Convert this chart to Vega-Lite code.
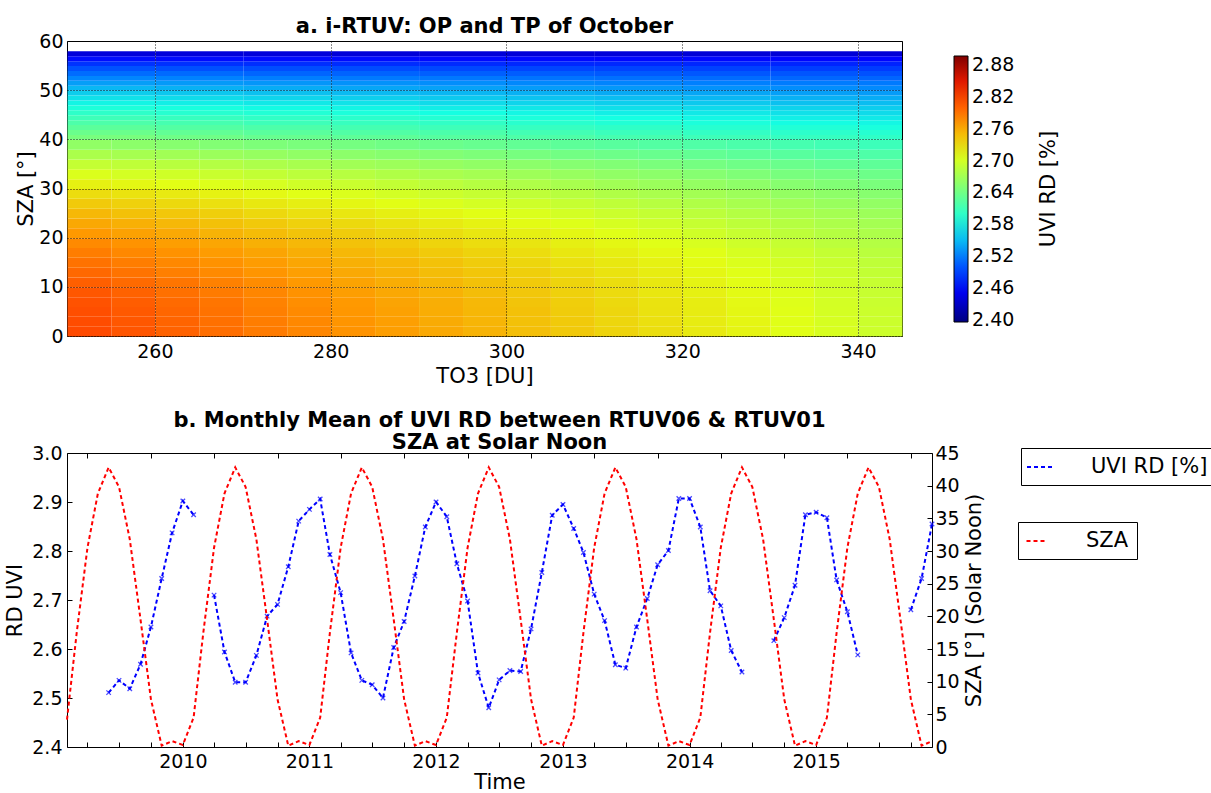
{
"$schema": "https://vega.github.io/schema/vega-lite/v6.json",
"padding": {"left": 4, "top": 15, "right": 0, "bottom": 0},
"background": "white",
"config": {
 "font": "DejaVu Sans",
 "view": {"stroke": "black", "strokeWidth": 1},
 "axis": {"labelFontSize": 19, "titleFontSize": 21, "titleFontWeight": "normal", "labelColor": "black", "titleColor": "black", "domain": false, "tickColor": "black", "grid": false, "labelFont": "DejaVu Sans", "titleFont": "DejaVu Sans"},
 "title": {"fontSize": 21, "fontWeight": "bold", "font": "DejaVu Sans", "color": "black"},
 "legend": {"labelFont": "DejaVu Sans", "titleFont": "DejaVu Sans", "labelColor": "black"}
},
"datasets": {
"grid": [
{"t":250,"s":0,"v":2.813},{"t":255,"s":0,"v":2.807},{"t":260,"s":0,"v":2.800},{"t":265,"s":0,"v":2.794},{"t":270,"s":0,"v":2.787},{"t":275,"s":0,"v":2.781},{"t":280,"s":0,"v":2.774},{"t":285,"s":0,"v":2.768},{"t":290,"s":0,"v":2.761},{"t":295,"s":0,"v":2.755},{"t":300,"s":0,"v":2.748},{"t":305,"s":0,"v":2.742},{"t":310,"s":0,"v":2.735},{"t":315,"s":0,"v":2.729},{"t":320,"s":0,"v":2.722},{"t":325,"s":0,"v":2.716},{"t":330,"s":0,"v":2.709},{"t":335,"s":0,"v":2.703},{"t":340,"s":0,"v":2.696},
{"t":250,"s":2,"v":2.812},{"t":255,"s":2,"v":2.806},{"t":260,"s":2,"v":2.799},{"t":265,"s":2,"v":2.793},{"t":270,"s":2,"v":2.786},{"t":275,"s":2,"v":2.780},{"t":280,"s":2,"v":2.773},{"t":285,"s":2,"v":2.767},{"t":290,"s":2,"v":2.760},{"t":295,"s":2,"v":2.754},{"t":300,"s":2,"v":2.747},{"t":305,"s":2,"v":2.741},{"t":310,"s":2,"v":2.734},{"t":315,"s":2,"v":2.728},{"t":320,"s":2,"v":2.721},{"t":325,"s":2,"v":2.715},{"t":330,"s":2,"v":2.708},{"t":335,"s":2,"v":2.702},{"t":340,"s":2,"v":2.695},
{"t":250,"s":4,"v":2.811},{"t":255,"s":4,"v":2.805},{"t":260,"s":4,"v":2.798},{"t":265,"s":4,"v":2.792},{"t":270,"s":4,"v":2.785},{"t":275,"s":4,"v":2.779},{"t":280,"s":4,"v":2.772},{"t":285,"s":4,"v":2.766},{"t":290,"s":4,"v":2.759},{"t":295,"s":4,"v":2.753},{"t":300,"s":4,"v":2.747},{"t":305,"s":4,"v":2.740},{"t":310,"s":4,"v":2.734},{"t":315,"s":4,"v":2.727},{"t":320,"s":4,"v":2.721},{"t":325,"s":4,"v":2.714},{"t":330,"s":4,"v":2.708},{"t":335,"s":4,"v":2.701},{"t":340,"s":4,"v":2.695},
{"t":250,"s":6,"v":2.809},{"t":255,"s":6,"v":2.803},{"t":260,"s":6,"v":2.796},{"t":265,"s":6,"v":2.790},{"t":270,"s":6,"v":2.783},{"t":275,"s":6,"v":2.777},{"t":280,"s":6,"v":2.771},{"t":285,"s":6,"v":2.764},{"t":290,"s":6,"v":2.758},{"t":295,"s":6,"v":2.752},{"t":300,"s":6,"v":2.745},{"t":305,"s":6,"v":2.739},{"t":310,"s":6,"v":2.732},{"t":315,"s":6,"v":2.726},{"t":320,"s":6,"v":2.720},{"t":325,"s":6,"v":2.713},{"t":330,"s":6,"v":2.707},{"t":335,"s":6,"v":2.700},{"t":340,"s":6,"v":2.694},
{"t":250,"s":8,"v":2.806},{"t":255,"s":8,"v":2.800},{"t":260,"s":8,"v":2.793},{"t":265,"s":8,"v":2.787},{"t":270,"s":8,"v":2.781},{"t":275,"s":8,"v":2.775},{"t":280,"s":8,"v":2.768},{"t":285,"s":8,"v":2.762},{"t":290,"s":8,"v":2.756},{"t":295,"s":8,"v":2.749},{"t":300,"s":8,"v":2.743},{"t":305,"s":8,"v":2.737},{"t":310,"s":8,"v":2.731},{"t":315,"s":8,"v":2.724},{"t":320,"s":8,"v":2.718},{"t":325,"s":8,"v":2.712},{"t":330,"s":8,"v":2.706},{"t":335,"s":8,"v":2.699},{"t":340,"s":8,"v":2.693},
{"t":250,"s":10,"v":2.802},{"t":255,"s":10,"v":2.796},{"t":260,"s":10,"v":2.790},{"t":265,"s":10,"v":2.784},{"t":270,"s":10,"v":2.778},{"t":275,"s":10,"v":2.771},{"t":280,"s":10,"v":2.765},{"t":285,"s":10,"v":2.759},{"t":290,"s":10,"v":2.753},{"t":295,"s":10,"v":2.747},{"t":300,"s":10,"v":2.741},{"t":305,"s":10,"v":2.735},{"t":310,"s":10,"v":2.729},{"t":315,"s":10,"v":2.723},{"t":320,"s":10,"v":2.716},{"t":325,"s":10,"v":2.710},{"t":330,"s":10,"v":2.704},{"t":335,"s":10,"v":2.698},{"t":340,"s":10,"v":2.692},
{"t":250,"s":12,"v":2.797},{"t":255,"s":12,"v":2.791},{"t":260,"s":12,"v":2.785},{"t":265,"s":12,"v":2.779},{"t":270,"s":12,"v":2.773},{"t":275,"s":12,"v":2.767},{"t":280,"s":12,"v":2.761},{"t":285,"s":12,"v":2.755},{"t":290,"s":12,"v":2.749},{"t":295,"s":12,"v":2.744},{"t":300,"s":12,"v":2.738},{"t":305,"s":12,"v":2.732},{"t":310,"s":12,"v":2.726},{"t":315,"s":12,"v":2.720},{"t":320,"s":12,"v":2.714},{"t":325,"s":12,"v":2.708},{"t":330,"s":12,"v":2.702},{"t":335,"s":12,"v":2.696},{"t":340,"s":12,"v":2.690},
{"t":250,"s":14,"v":2.792},{"t":255,"s":14,"v":2.786},{"t":260,"s":14,"v":2.780},{"t":265,"s":14,"v":2.775},{"t":270,"s":14,"v":2.769},{"t":275,"s":14,"v":2.763},{"t":280,"s":14,"v":2.757},{"t":285,"s":14,"v":2.752},{"t":290,"s":14,"v":2.746},{"t":295,"s":14,"v":2.740},{"t":300,"s":14,"v":2.734},{"t":305,"s":14,"v":2.728},{"t":310,"s":14,"v":2.723},{"t":315,"s":14,"v":2.717},{"t":320,"s":14,"v":2.711},{"t":325,"s":14,"v":2.705},{"t":330,"s":14,"v":2.700},{"t":335,"s":14,"v":2.694},{"t":340,"s":14,"v":2.688},
{"t":250,"s":16,"v":2.786},{"t":255,"s":16,"v":2.780},{"t":260,"s":16,"v":2.775},{"t":265,"s":16,"v":2.769},{"t":270,"s":16,"v":2.764},{"t":275,"s":16,"v":2.758},{"t":280,"s":16,"v":2.752},{"t":285,"s":16,"v":2.747},{"t":290,"s":16,"v":2.741},{"t":295,"s":16,"v":2.736},{"t":300,"s":16,"v":2.730},{"t":305,"s":16,"v":2.724},{"t":310,"s":16,"v":2.719},{"t":315,"s":16,"v":2.713},{"t":320,"s":16,"v":2.708},{"t":325,"s":16,"v":2.702},{"t":330,"s":16,"v":2.696},{"t":335,"s":16,"v":2.691},{"t":340,"s":16,"v":2.685},
{"t":250,"s":18,"v":2.779},{"t":255,"s":18,"v":2.774},{"t":260,"s":18,"v":2.768},{"t":265,"s":18,"v":2.763},{"t":270,"s":18,"v":2.757},{"t":275,"s":18,"v":2.752},{"t":280,"s":18,"v":2.746},{"t":285,"s":18,"v":2.741},{"t":290,"s":18,"v":2.735},{"t":295,"s":18,"v":2.730},{"t":300,"s":18,"v":2.725},{"t":305,"s":18,"v":2.719},{"t":310,"s":18,"v":2.714},{"t":315,"s":18,"v":2.708},{"t":320,"s":18,"v":2.703},{"t":325,"s":18,"v":2.697},{"t":330,"s":18,"v":2.692},{"t":335,"s":18,"v":2.686},{"t":340,"s":18,"v":2.681},
{"t":250,"s":20,"v":2.771},{"t":255,"s":20,"v":2.766},{"t":260,"s":20,"v":2.761},{"t":265,"s":20,"v":2.755},{"t":270,"s":20,"v":2.750},{"t":275,"s":20,"v":2.745},{"t":280,"s":20,"v":2.740},{"t":285,"s":20,"v":2.734},{"t":290,"s":20,"v":2.729},{"t":295,"s":20,"v":2.724},{"t":300,"s":20,"v":2.719},{"t":305,"s":20,"v":2.714},{"t":310,"s":20,"v":2.708},{"t":315,"s":20,"v":2.703},{"t":320,"s":20,"v":2.698},{"t":325,"s":20,"v":2.693},{"t":330,"s":20,"v":2.687},{"t":335,"s":20,"v":2.682},{"t":340,"s":20,"v":2.677},
{"t":250,"s":22,"v":2.762},{"t":255,"s":22,"v":2.757},{"t":260,"s":22,"v":2.752},{"t":265,"s":22,"v":2.747},{"t":270,"s":22,"v":2.742},{"t":275,"s":22,"v":2.737},{"t":280,"s":22,"v":2.732},{"t":285,"s":22,"v":2.727},{"t":290,"s":22,"v":2.722},{"t":295,"s":22,"v":2.717},{"t":300,"s":22,"v":2.712},{"t":305,"s":22,"v":2.707},{"t":310,"s":22,"v":2.702},{"t":315,"s":22,"v":2.697},{"t":320,"s":22,"v":2.692},{"t":325,"s":22,"v":2.687},{"t":330,"s":22,"v":2.682},{"t":335,"s":22,"v":2.677},{"t":340,"s":22,"v":2.672},
{"t":250,"s":24,"v":2.752},{"t":255,"s":24,"v":2.747},{"t":260,"s":24,"v":2.743},{"t":265,"s":24,"v":2.738},{"t":270,"s":24,"v":2.733},{"t":275,"s":24,"v":2.728},{"t":280,"s":24,"v":2.724},{"t":285,"s":24,"v":2.719},{"t":290,"s":24,"v":2.714},{"t":295,"s":24,"v":2.710},{"t":300,"s":24,"v":2.705},{"t":305,"s":24,"v":2.700},{"t":310,"s":24,"v":2.695},{"t":315,"s":24,"v":2.691},{"t":320,"s":24,"v":2.686},{"t":325,"s":24,"v":2.681},{"t":330,"s":24,"v":2.676},{"t":335,"s":24,"v":2.672},{"t":340,"s":24,"v":2.667},
{"t":250,"s":26,"v":2.741},{"t":255,"s":26,"v":2.737},{"t":260,"s":26,"v":2.732},{"t":265,"s":26,"v":2.728},{"t":270,"s":26,"v":2.723},{"t":275,"s":26,"v":2.719},{"t":280,"s":26,"v":2.714},{"t":285,"s":26,"v":2.710},{"t":290,"s":26,"v":2.705},{"t":295,"s":26,"v":2.701},{"t":300,"s":26,"v":2.697},{"t":305,"s":26,"v":2.692},{"t":310,"s":26,"v":2.688},{"t":315,"s":26,"v":2.683},{"t":320,"s":26,"v":2.679},{"t":325,"s":26,"v":2.674},{"t":330,"s":26,"v":2.670},{"t":335,"s":26,"v":2.665},{"t":340,"s":26,"v":2.661},
{"t":250,"s":28,"v":2.730},{"t":255,"s":28,"v":2.726},{"t":260,"s":28,"v":2.722},{"t":265,"s":28,"v":2.717},{"t":270,"s":28,"v":2.713},{"t":275,"s":28,"v":2.709},{"t":280,"s":28,"v":2.705},{"t":285,"s":28,"v":2.700},{"t":290,"s":28,"v":2.696},{"t":295,"s":28,"v":2.692},{"t":300,"s":28,"v":2.688},{"t":305,"s":28,"v":2.684},{"t":310,"s":28,"v":2.679},{"t":315,"s":28,"v":2.675},{"t":320,"s":28,"v":2.671},{"t":325,"s":28,"v":2.667},{"t":330,"s":28,"v":2.662},{"t":335,"s":28,"v":2.658},{"t":340,"s":28,"v":2.654},
{"t":250,"s":30,"v":2.718},{"t":255,"s":30,"v":2.714},{"t":260,"s":30,"v":2.710},{"t":265,"s":30,"v":2.706},{"t":270,"s":30,"v":2.702},{"t":275,"s":30,"v":2.698},{"t":280,"s":30,"v":2.694},{"t":285,"s":30,"v":2.690},{"t":290,"s":30,"v":2.686},{"t":295,"s":30,"v":2.682},{"t":300,"s":30,"v":2.678},{"t":305,"s":30,"v":2.674},{"t":310,"s":30,"v":2.670},{"t":315,"s":30,"v":2.666},{"t":320,"s":30,"v":2.662},{"t":325,"s":30,"v":2.658},{"t":330,"s":30,"v":2.654},{"t":335,"s":30,"v":2.650},{"t":340,"s":30,"v":2.646},
{"t":250,"s":32,"v":2.705},{"t":255,"s":32,"v":2.701},{"t":260,"s":32,"v":2.698},{"t":265,"s":32,"v":2.694},{"t":270,"s":32,"v":2.690},{"t":275,"s":32,"v":2.686},{"t":280,"s":32,"v":2.683},{"t":285,"s":32,"v":2.679},{"t":290,"s":32,"v":2.675},{"t":295,"s":32,"v":2.672},{"t":300,"s":32,"v":2.668},{"t":305,"s":32,"v":2.664},{"t":310,"s":32,"v":2.660},{"t":315,"s":32,"v":2.657},{"t":320,"s":32,"v":2.653},{"t":325,"s":32,"v":2.649},{"t":330,"s":32,"v":2.645},{"t":335,"s":32,"v":2.642},{"t":340,"s":32,"v":2.638},
{"t":250,"s":34,"v":2.691},{"t":255,"s":34,"v":2.688},{"t":260,"s":34,"v":2.684},{"t":265,"s":34,"v":2.681},{"t":270,"s":34,"v":2.677},{"t":275,"s":34,"v":2.674},{"t":280,"s":34,"v":2.670},{"t":285,"s":34,"v":2.667},{"t":290,"s":34,"v":2.663},{"t":295,"s":34,"v":2.660},{"t":300,"s":34,"v":2.657},{"t":305,"s":34,"v":2.653},{"t":310,"s":34,"v":2.650},{"t":315,"s":34,"v":2.646},{"t":320,"s":34,"v":2.643},{"t":325,"s":34,"v":2.639},{"t":330,"s":34,"v":2.636},{"t":335,"s":34,"v":2.632},{"t":340,"s":34,"v":2.629},
{"t":250,"s":36,"v":2.676},{"t":255,"s":36,"v":2.673},{"t":260,"s":36,"v":2.670},{"t":265,"s":36,"v":2.666},{"t":270,"s":36,"v":2.663},{"t":275,"s":36,"v":2.660},{"t":280,"s":36,"v":2.657},{"t":285,"s":36,"v":2.654},{"t":290,"s":36,"v":2.651},{"t":295,"s":36,"v":2.648},{"t":300,"s":36,"v":2.644},{"t":305,"s":36,"v":2.641},{"t":310,"s":36,"v":2.638},{"t":315,"s":36,"v":2.635},{"t":320,"s":36,"v":2.632},{"t":325,"s":36,"v":2.628},{"t":330,"s":36,"v":2.625},{"t":335,"s":36,"v":2.622},{"t":340,"s":36,"v":2.619},
{"t":250,"s":38,"v":2.660},{"t":255,"s":38,"v":2.657},{"t":260,"s":38,"v":2.654},{"t":265,"s":38,"v":2.651},{"t":270,"s":38,"v":2.648},{"t":275,"s":38,"v":2.646},{"t":280,"s":38,"v":2.643},{"t":285,"s":38,"v":2.640},{"t":290,"s":38,"v":2.637},{"t":295,"s":38,"v":2.634},{"t":300,"s":38,"v":2.631},{"t":305,"s":38,"v":2.628},{"t":310,"s":38,"v":2.625},{"t":315,"s":38,"v":2.622},{"t":320,"s":38,"v":2.620},{"t":325,"s":38,"v":2.617},{"t":330,"s":38,"v":2.614},{"t":335,"s":38,"v":2.611},{"t":340,"s":38,"v":2.608}
],
"grid2": [
{"t":250,"s":40,"v":2.645},{"t":260,"s":40,"v":2.639},{"t":270,"s":40,"v":2.634},{"t":280,"s":40,"v":2.629},{"t":290,"s":40,"v":2.624},{"t":300,"s":40,"v":2.619},{"t":310,"s":40,"v":2.614},{"t":320,"s":40,"v":2.609},{"t":330,"s":40,"v":2.604},{"t":340,"s":40,"v":2.600},
{"t":250,"s":41,"v":2.636},{"t":260,"s":41,"v":2.631},{"t":270,"s":41,"v":2.626},{"t":280,"s":41,"v":2.621},{"t":290,"s":41,"v":2.617},{"t":300,"s":41,"v":2.612},{"t":310,"s":41,"v":2.607},{"t":320,"s":41,"v":2.602},{"t":330,"s":41,"v":2.598},{"t":340,"s":41,"v":2.594},
{"t":250,"s":42,"v":2.627},{"t":260,"s":42,"v":2.622},{"t":270,"s":42,"v":2.618},{"t":280,"s":42,"v":2.613},{"t":290,"s":42,"v":2.609},{"t":300,"s":42,"v":2.604},{"t":310,"s":42,"v":2.600},{"t":320,"s":42,"v":2.595},{"t":330,"s":42,"v":2.591},{"t":340,"s":42,"v":2.587},
{"t":250,"s":43,"v":2.618},{"t":260,"s":43,"v":2.614},{"t":270,"s":43,"v":2.609},{"t":280,"s":43,"v":2.605},{"t":290,"s":43,"v":2.601},{"t":300,"s":43,"v":2.596},{"t":310,"s":43,"v":2.592},{"t":320,"s":43,"v":2.588},{"t":330,"s":43,"v":2.583},{"t":340,"s":43,"v":2.580},
{"t":250,"s":44,"v":2.609},{"t":260,"s":44,"v":2.605},{"t":270,"s":44,"v":2.601},{"t":280,"s":44,"v":2.597},{"t":290,"s":44,"v":2.593},{"t":300,"s":44,"v":2.588},{"t":310,"s":44,"v":2.584},{"t":320,"s":44,"v":2.580},{"t":330,"s":44,"v":2.576},{"t":340,"s":44,"v":2.573},
{"t":250,"s":45,"v":2.599},{"t":260,"s":45,"v":2.595},{"t":270,"s":45,"v":2.592},{"t":280,"s":45,"v":2.588},{"t":290,"s":45,"v":2.584},{"t":300,"s":45,"v":2.580},{"t":310,"s":45,"v":2.576},{"t":320,"s":45,"v":2.573},{"t":330,"s":45,"v":2.569},{"t":340,"s":45,"v":2.566},
{"t":250,"s":46,"v":2.589},{"t":260,"s":46,"v":2.586},{"t":270,"s":46,"v":2.582},{"t":280,"s":46,"v":2.579},{"t":290,"s":46,"v":2.575},{"t":300,"s":46,"v":2.572},{"t":310,"s":46,"v":2.568},{"t":320,"s":46,"v":2.565},{"t":330,"s":46,"v":2.562},{"t":340,"s":46,"v":2.559},
{"t":250,"s":47,"v":2.579},{"t":260,"s":47,"v":2.576},{"t":270,"s":47,"v":2.573},{"t":280,"s":47,"v":2.570},{"t":290,"s":47,"v":2.566},{"t":300,"s":47,"v":2.563},{"t":310,"s":47,"v":2.560},{"t":320,"s":47,"v":2.557},{"t":330,"s":47,"v":2.553},{"t":340,"s":47,"v":2.551},
{"t":250,"s":48,"v":2.569},{"t":260,"s":48,"v":2.566},{"t":270,"s":48,"v":2.563},{"t":280,"s":48,"v":2.560},{"t":290,"s":48,"v":2.557},{"t":300,"s":48,"v":2.554},{"t":310,"s":48,"v":2.551},{"t":320,"s":48,"v":2.548},{"t":330,"s":48,"v":2.545},{"t":340,"s":48,"v":2.543},
{"t":250,"s":49,"v":2.559},{"t":260,"s":49,"v":2.556},{"t":270,"s":49,"v":2.553},{"t":280,"s":49,"v":2.550},{"t":290,"s":49,"v":2.548},{"t":300,"s":49,"v":2.545},{"t":310,"s":49,"v":2.542},{"t":320,"s":49,"v":2.540},{"t":330,"s":49,"v":2.537},{"t":340,"s":49,"v":2.535},
{"t":250,"s":50,"v":2.548},{"t":260,"s":50,"v":2.545},{"t":270,"s":50,"v":2.543},{"t":280,"s":50,"v":2.540},{"t":290,"s":50,"v":2.538},{"t":300,"s":50,"v":2.535},{"t":310,"s":50,"v":2.533},{"t":320,"s":50,"v":2.530},{"t":330,"s":50,"v":2.528},{"t":340,"s":50,"v":2.526},
{"t":250,"s":51,"v":2.536},{"t":260,"s":51,"v":2.534},{"t":270,"s":51,"v":2.532},{"t":280,"s":51,"v":2.530},{"t":290,"s":51,"v":2.528},{"t":300,"s":51,"v":2.525},{"t":310,"s":51,"v":2.523},{"t":320,"s":51,"v":2.521},{"t":330,"s":51,"v":2.519},{"t":340,"s":51,"v":2.518},
{"t":250,"s":52,"v":2.524},{"t":260,"s":52,"v":2.522},{"t":270,"s":52,"v":2.520},{"t":280,"s":52,"v":2.518},{"t":290,"s":52,"v":2.517},{"t":300,"s":52,"v":2.515},{"t":310,"s":52,"v":2.513},{"t":320,"s":52,"v":2.511},{"t":330,"s":52,"v":2.509},{"t":340,"s":52,"v":2.508},
{"t":250,"s":53,"v":2.511},{"t":260,"s":53,"v":2.510},{"t":270,"s":53,"v":2.508},{"t":280,"s":53,"v":2.507},{"t":290,"s":53,"v":2.505},{"t":300,"s":53,"v":2.504},{"t":310,"s":53,"v":2.502},{"t":320,"s":53,"v":2.501},{"t":330,"s":53,"v":2.500},{"t":340,"s":53,"v":2.498},
{"t":250,"s":54,"v":2.498},{"t":260,"s":54,"v":2.497},{"t":270,"s":54,"v":2.496},{"t":280,"s":54,"v":2.495},{"t":290,"s":54,"v":2.493},{"t":300,"s":54,"v":2.492},{"t":310,"s":54,"v":2.491},{"t":320,"s":54,"v":2.490},{"t":330,"s":54,"v":2.488},{"t":340,"s":54,"v":2.487},
{"t":250,"s":55,"v":2.483},{"t":260,"s":55,"v":2.482},{"t":270,"s":55,"v":2.481},{"t":280,"s":55,"v":2.480},{"t":290,"s":55,"v":2.479},{"t":300,"s":55,"v":2.478},{"t":310,"s":55,"v":2.478},{"t":320,"s":55,"v":2.477},{"t":330,"s":55,"v":2.476},{"t":340,"s":55,"v":2.475},
{"t":250,"s":56,"v":2.464},{"t":260,"s":56,"v":2.463},{"t":270,"s":56,"v":2.463},{"t":280,"s":56,"v":2.463},{"t":290,"s":56,"v":2.462},{"t":300,"s":56,"v":2.462},{"t":310,"s":56,"v":2.461},{"t":320,"s":56,"v":2.461},{"t":330,"s":56,"v":2.460},{"t":340,"s":56,"v":2.460},
{"t":250,"s":57,"v":2.440},{"t":260,"s":57,"v":2.440},{"t":270,"s":57,"v":2.440},{"t":280,"s":57,"v":2.439},{"t":290,"s":57,"v":2.439},{"t":300,"s":57,"v":2.439},{"t":310,"s":57,"v":2.439},{"t":320,"s":57,"v":2.438},{"t":330,"s":57,"v":2.438},{"t":340,"s":57,"v":2.438}
],
"sza": [
{"d":"2009-02-01","v":4.2},{"d":"2009-03-01","v":17.5},{"d":"2009-04-01","v":30.5},{"d":"2009-05-01","v":38.8},{"d":"2009-06-01","v":42.8},{"d":"2009-07-01","v":39.8},{"d":"2009-08-01","v":31.8},{"d":"2009-09-01","v":19.5},{"d":"2009-10-01","v":7.3},{"d":"2009-11-01","v":0.2},{"d":"2009-12-01","v":0.9},
{"d":"2010-01-01","v":0.3},{"d":"2010-02-01","v":4.5},{"d":"2010-03-01","v":17.5},{"d":"2010-04-01","v":30.5},{"d":"2010-05-01","v":38.8},{"d":"2010-06-01","v":42.8},{"d":"2010-07-01","v":39.8},{"d":"2010-08-01","v":31.8},{"d":"2010-09-01","v":19.5},{"d":"2010-10-01","v":7.3},{"d":"2010-11-01","v":0.2},{"d":"2010-12-01","v":0.9},
{"d":"2011-01-01","v":0.3},{"d":"2011-02-01","v":4.5},{"d":"2011-03-01","v":17.5},{"d":"2011-04-01","v":30.5},{"d":"2011-05-01","v":38.8},{"d":"2011-06-01","v":42.8},{"d":"2011-07-01","v":39.8},{"d":"2011-08-01","v":31.8},{"d":"2011-09-01","v":19.5},{"d":"2011-10-01","v":7.3},{"d":"2011-11-01","v":0.2},{"d":"2011-12-01","v":0.9},
{"d":"2012-01-01","v":0.3},{"d":"2012-02-01","v":4.5},{"d":"2012-03-01","v":17.5},{"d":"2012-04-01","v":30.5},{"d":"2012-05-01","v":38.8},{"d":"2012-06-01","v":42.8},{"d":"2012-07-01","v":39.8},{"d":"2012-08-01","v":31.8},{"d":"2012-09-01","v":19.5},{"d":"2012-10-01","v":7.3},{"d":"2012-11-01","v":0.2},{"d":"2012-12-01","v":0.9},
{"d":"2013-01-01","v":0.3},{"d":"2013-02-01","v":4.5},{"d":"2013-03-01","v":17.5},{"d":"2013-04-01","v":30.5},{"d":"2013-05-01","v":38.8},{"d":"2013-06-01","v":42.8},{"d":"2013-07-01","v":39.8},{"d":"2013-08-01","v":31.8},{"d":"2013-09-01","v":19.5},{"d":"2013-10-01","v":7.3},{"d":"2013-11-01","v":0.2},{"d":"2013-12-01","v":0.9},
{"d":"2014-01-01","v":0.3},{"d":"2014-02-01","v":4.5},{"d":"2014-03-01","v":17.5},{"d":"2014-04-01","v":30.5},{"d":"2014-05-01","v":38.8},{"d":"2014-06-01","v":42.8},{"d":"2014-07-01","v":39.8},{"d":"2014-08-01","v":31.8},{"d":"2014-09-01","v":19.5},{"d":"2014-10-01","v":7.3},{"d":"2014-11-01","v":0.2},{"d":"2014-12-01","v":0.9},
{"d":"2015-01-01","v":0.3},{"d":"2015-02-01","v":4.5},{"d":"2015-03-01","v":17.5},{"d":"2015-04-01","v":30.5},{"d":"2015-05-01","v":38.8},{"d":"2015-06-01","v":42.8},{"d":"2015-07-01","v":39.8},{"d":"2015-08-01","v":31.8},{"d":"2015-09-01","v":19.5},{"d":"2015-10-01","v":7.3},{"d":"2015-11-01","v":0.2},{"d":"2015-12-01","v":0.9}
],
"uvi": [
{"d":"2009-06-01","v":2.511,"g":1},{"d":"2009-07-01","v":2.536,"g":1},{"d":"2009-08-01","v":2.519,"g":1},{"d":"2009-09-01","v":2.569,"g":1},{"d":"2009-10-01","v":2.645,"g":1},{"d":"2009-11-01","v":2.744,"g":1},{"d":"2009-12-01","v":2.837,"g":1},{"d":"2010-01-01","v":2.902,"g":1},{"d":"2010-02-01","v":2.874,"g":1},
{"d":"2010-04-01","v":2.710,"g":2},{"d":"2010-05-01","v":2.594,"g":2},{"d":"2010-06-01","v":2.532,"g":2},{"d":"2010-07-01","v":2.532,"g":2},{"d":"2010-08-01","v":2.587,"g":2},{"d":"2010-09-01","v":2.667,"g":2},{"d":"2010-10-01","v":2.691,"g":2},{"d":"2010-11-01","v":2.768,"g":2},{"d":"2010-12-01","v":2.861,"g":2},
{"d":"2011-01-01","v":2.885,"g":2},{"d":"2011-02-01","v":2.906,"g":2},{"d":"2011-03-01","v":2.793,"g":2},{"d":"2011-04-01","v":2.715,"g":2},{"d":"2011-05-01","v":2.592,"g":2},{"d":"2011-06-01","v":2.536,"g":2},{"d":"2011-07-01","v":2.527,"g":2},{"d":"2011-08-01","v":2.500,"g":2},{"d":"2011-09-01","v":2.603,"g":2},{"d":"2011-10-01","v":2.656,"g":2},{"d":"2011-11-01","v":2.749,"g":2},{"d":"2011-12-01","v":2.849,"g":2},
{"d":"2012-01-01","v":2.900,"g":2},{"d":"2012-02-01","v":2.870,"g":2},{"d":"2012-03-01","v":2.774,"g":2},{"d":"2012-04-01","v":2.698,"g":2},{"d":"2012-05-01","v":2.551,"g":2},{"d":"2012-06-01","v":2.480,"g":2},{"d":"2012-07-01","v":2.537,"g":2},{"d":"2012-08-01","v":2.556,"g":2},{"d":"2012-09-01","v":2.554,"g":2},{"d":"2012-10-01","v":2.641,"g":2},{"d":"2012-11-01","v":2.756,"g":2},{"d":"2012-12-01","v":2.873,"g":2},
{"d":"2013-01-01","v":2.895,"g":2},{"d":"2013-02-01","v":2.846,"g":2},{"d":"2013-03-01","v":2.797,"g":2},{"d":"2013-04-01","v":2.712,"g":2},{"d":"2013-05-01","v":2.658,"g":2},{"d":"2013-06-01","v":2.568,"g":2},{"d":"2013-07-01","v":2.561,"g":2},{"d":"2013-08-01","v":2.645,"g":2},{"d":"2013-09-01","v":2.703,"g":2},{"d":"2013-10-01","v":2.772,"g":2},{"d":"2013-11-01","v":2.801,"g":2},{"d":"2013-12-01","v":2.907,"g":2},
{"d":"2014-01-01","v":2.907,"g":2},{"d":"2014-02-01","v":2.849,"g":2},{"d":"2014-03-01","v":2.719,"g":2},{"d":"2014-04-01","v":2.688,"g":2},{"d":"2014-05-01","v":2.597,"g":2},{"d":"2014-06-01","v":2.553,"g":2},
{"d":"2014-09-01","v":2.617,"g":3},{"d":"2014-10-01","v":2.664,"g":3},{"d":"2014-11-01","v":2.730,"g":3},{"d":"2014-12-01","v":2.874,"g":3},{"d":"2015-01-01","v":2.879,"g":3},{"d":"2015-02-01","v":2.868,"g":3},{"d":"2015-03-01","v":2.741,"g":3},{"d":"2015-04-01","v":2.676,"g":3},{"d":"2015-05-01","v":2.588,"g":3},
{"d":"2015-10-01","v":2.680,"g":4},{"d":"2015-11-01","v":2.744,"g":4},{"d":"2015-12-01","v":2.855,"g":4}
]
},
"spacing": 22,
"resolve": {"scale": {"color": "independent"}, "legend": {"color": "independent"}},
"vconcat": [
{
 "title": {"text": "a. i-RTUV: OP and TP of October", "offset": -5},
 "width": 835, "height": 295,
 "layer": [
  {
   "data": {"name": "grid"},
   "mark": {"type": "rect"},
   "encoding": {
    "x": {"field": "t", "type": "quantitative", "bin": {"binned": true, "step": 5},
          "scale": {"domain": [250, 345], "nice": false, "zero": false},
          "axis": {"title": "TO3 [DU]", "values": [260, 280, 300, 320, 340], "format": "d", "grid": true, "gridColor": "black", "gridDash": [1, 2], "gridOpacity": 0.9, "zindex": 1, "ticks": false, "labelPadding": 6, "titlePadding": 4}},
    "y": {"field": "s", "type": "quantitative", "bin": {"binned": true, "step": 2},
          "scale": {"domain": [0, 60], "nice": false},
          "axis": {"title": "SZA [°]", "values": [0, 10, 20, 30, 40, 50, 60], "format": "d", "grid": true, "gridColor": "black", "gridDash": [1, 2], "gridOpacity": 0.9, "zindex": 1, "ticks": false, "labelPadding": 4, "titlePadding": 2}},
    "color": {"field": "v", "type": "quantitative",
          "scale": {"domain": [2.3955, 2.8976], "interpolate": "rgb", "range": ["#000080", "#0000ff", "#0080ff", "#15ffe2", "#7bff7b", "#e2ff15", "#ff9700", "#ff2100", "#800000"]},
          "legend": {"type": "gradient", "orient": "none", "legendX": 887, "legendY": 15, "direction": "vertical", "gradientLength": 266, "gradientThickness": 14, "gradientStrokeColor": "black", "gradientStrokeWidth": 1,
                     "values": [2.40, 2.46, 2.52, 2.58, 2.64, 2.70, 2.76, 2.82, 2.88], "format": ".2f", "labelFontSize": 19, "labelOffset": 4, "labelOverlap": false,
                     "title": "UVI RD [%]", "titleOrient": "right", "titleFontSize": 21, "titleFontWeight": "normal", "titleColor": "black", "titlePadding": 45, "titleAnchor": "middle",
                     "encode": {"title": {"update": {"angle": {"value": -90}}}}}}
   }
  },
  {
   "data": {"name": "grid2"},
   "mark": {"type": "rect", "clip": true},
   "encoding": {
    "x": {"field": "t", "type": "quantitative", "bin": {"binned": true, "step": 10},
          "scale": {"domain": [250, 345], "nice": false, "zero": false},
          "axis": {"title": "TO3 [DU]", "values": [260, 280, 300, 320, 340], "format": "d", "grid": true, "gridColor": "black", "gridDash": [1, 2], "gridOpacity": 0.9, "zindex": 1, "ticks": false, "labelPadding": 6, "titlePadding": 4}},
    "y": {"field": "s", "type": "quantitative", "bin": {"binned": true, "step": 1},
          "scale": {"domain": [0, 60], "nice": false},
          "axis": {"title": "SZA [°]", "values": [0, 10, 20, 30, 40, 50, 60], "format": "d", "grid": true, "gridColor": "black", "gridDash": [1, 2], "gridOpacity": 0.9, "zindex": 1, "ticks": false, "labelPadding": 4, "titlePadding": 2}},
    "color": {"field": "v", "type": "quantitative",
          "scale": {"domain": [2.3955, 2.8976], "interpolate": "rgb", "range": ["#000080", "#0000ff", "#0080ff", "#15ffe2", "#7bff7b", "#e2ff15", "#ff9700", "#ff2100", "#800000"]},
          "legend": {"type": "gradient", "orient": "none", "legendX": 887, "legendY": 15, "direction": "vertical", "gradientLength": 266, "gradientThickness": 14, "gradientStrokeColor": "black", "gradientStrokeWidth": 1,
                     "values": [2.40, 2.46, 2.52, 2.58, 2.64, 2.70, 2.76, 2.82, 2.88], "format": ".2f", "labelFontSize": 19, "labelOffset": 4, "labelOverlap": false,
                     "title": "UVI RD [%]", "titleOrient": "right", "titleFontSize": 21, "titleFontWeight": "normal", "titleColor": "black", "titlePadding": 45, "titleAnchor": "middle",
                     "encode": {"title": {"update": {"angle": {"value": -90}}}}}}
   }
  }
 ]
},
{
 "title": {"text": ["b. Monthly Mean of UVI RD between RTUV06 & RTUV01", "SZA at Solar Noon"], "offset": -9, "lineHeight": 22},
 "width": 865, "height": 294,
 "layer": [
  {
   "data": {"name": "uvi"},
   "layer": [
    {
     "mark": {"type": "line", "strokeDash": [4, 3], "strokeWidth": 2},
     "encoding": {
      "x": {"field": "d", "type": "temporal", "scale": {"type": "utc", "domain": [{"year": 2009, "month": 2, "date": 1, "utc": true}, {"year": 2015, "month": 12, "date": 1, "utc": true}]},
            "axis": {"orient": "top", "title": null, "labels": false, "tickSize": -5, "tickColor": "black",
                     "values": [{"year":2009,"month":4,"date":1,"utc":true},{"year":2009,"month":7,"date":1,"utc":true},{"year":2009,"month":10,"date":1,"utc":true},{"year":2010,"month":1,"date":1,"utc":true},{"year":2010,"month":4,"date":1,"utc":true},{"year":2010,"month":7,"date":1,"utc":true},{"year":2010,"month":10,"date":1,"utc":true},{"year":2011,"month":1,"date":1,"utc":true},{"year":2011,"month":4,"date":1,"utc":true},{"year":2011,"month":7,"date":1,"utc":true},{"year":2011,"month":10,"date":1,"utc":true},{"year":2012,"month":1,"date":1,"utc":true},{"year":2012,"month":4,"date":1,"utc":true},{"year":2012,"month":7,"date":1,"utc":true},{"year":2012,"month":10,"date":1,"utc":true},{"year":2013,"month":1,"date":1,"utc":true},{"year":2013,"month":4,"date":1,"utc":true},{"year":2013,"month":7,"date":1,"utc":true},{"year":2013,"month":10,"date":1,"utc":true},{"year":2014,"month":1,"date":1,"utc":true},{"year":2014,"month":4,"date":1,"utc":true},{"year":2014,"month":7,"date":1,"utc":true},{"year":2014,"month":10,"date":1,"utc":true},{"year":2015,"month":1,"date":1,"utc":true},{"year":2015,"month":4,"date":1,"utc":true},{"year":2015,"month":7,"date":1,"utc":true},{"year":2015,"month":10,"date":1,"utc":true}]}},
      "y": {"field": "v", "type": "quantitative", "scale": {"domain": [2.4, 3.0], "nice": false, "zero": false},
            "axis": {"orient": "left", "title": "RD UVI", "values": [2.4, 2.5, 2.6, 2.7, 2.8, 2.9, 3.0], "format": ".1f", "tickSize": -5, "labelPadding": 10, "titlePadding": 6}},
      "detail": {"field": "g", "type": "nominal"},
      "color": {"datum": "UVI RD [%]", "type": "nominal", "scale": {"range": ["#0000ff"]},
                "legend": {"orient": "none", "legendX": 954, "legendY": -5, "title": null, "symbolType": "M-1.3,0H1.3", "symbolSize": 400, "symbolStrokeWidth": 2, "symbolDash": [4, 3], "symbolOffset": 0, "labelFontSize": 21, "labelOffset": 40, "strokeColor": "black", "padding": 8, "fillColor": "white"}}
     }
    },
    {
     "mark": {"type": "point", "shape": "M-1,-1L1,1M-1,1L1,-1", "size": 20, "stroke": "#0000ff", "strokeWidth": 1.3, "filled": false},
     "encoding": {
      "x": {"field": "d", "type": "temporal"},
      "y": {"field": "v", "type": "quantitative"}
     }
    }
   ]
  },
  {
   "data": {"name": "sza"},
   "mark": {"type": "line", "strokeDash": [4, 3], "strokeWidth": 2},
   "encoding": {
    "x": {"field": "d", "type": "temporal", "scale": {"type": "utc"},
          "axis": {"orient": "bottom", "title": "Time", "tickSize": -5, "tickColor": "black", "labelPadding": 10, "titlePadding": 0,
                   "labelExpr": "utcmonth(datum.value) === 0 ? utcFormat(datum.value, '%Y') : ''",
                   "values": [{"year":2009,"month":4,"date":1,"utc":true},{"year":2009,"month":7,"date":1,"utc":true},{"year":2009,"month":10,"date":1,"utc":true},{"year":2010,"month":1,"date":1,"utc":true},{"year":2010,"month":4,"date":1,"utc":true},{"year":2010,"month":7,"date":1,"utc":true},{"year":2010,"month":10,"date":1,"utc":true},{"year":2011,"month":1,"date":1,"utc":true},{"year":2011,"month":4,"date":1,"utc":true},{"year":2011,"month":7,"date":1,"utc":true},{"year":2011,"month":10,"date":1,"utc":true},{"year":2012,"month":1,"date":1,"utc":true},{"year":2012,"month":4,"date":1,"utc":true},{"year":2012,"month":7,"date":1,"utc":true},{"year":2012,"month":10,"date":1,"utc":true},{"year":2013,"month":1,"date":1,"utc":true},{"year":2013,"month":4,"date":1,"utc":true},{"year":2013,"month":7,"date":1,"utc":true},{"year":2013,"month":10,"date":1,"utc":true},{"year":2014,"month":1,"date":1,"utc":true},{"year":2014,"month":4,"date":1,"utc":true},{"year":2014,"month":7,"date":1,"utc":true},{"year":2014,"month":10,"date":1,"utc":true},{"year":2015,"month":1,"date":1,"utc":true},{"year":2015,"month":4,"date":1,"utc":true},{"year":2015,"month":7,"date":1,"utc":true},{"year":2015,"month":10,"date":1,"utc":true}]}},
    "y": {"field": "v", "type": "quantitative", "scale": {"domain": [0, 45], "nice": false},
          "axis": {"orient": "right", "title": "SZA [°] (Solar Noon)", "values": [0, 5, 10, 15, 20, 25, 30, 35, 40, 45], "tickSize": -5, "labelPadding": 8, "titlePadding": 4, "titleAngle": 270, "titleBaseline": "top"}},
    "color": {"datum": "SZA", "type": "nominal", "scale": {"range": ["#ff0000"]},
              "legend": {"orient": "none", "legendX": 951, "legendY": 69, "title": null, "symbolType": "M-1.05,0H1.05", "symbolSize": 400, "symbolStrokeWidth": 2, "symbolDash": [4, 3], "symbolOffset": 0, "labelFontSize": 21, "labelOffset": 38, "strokeColor": "black", "padding": 8, "fillColor": "white"}}
   }
  }
 ],
 "resolve": {"scale": {"y": "independent", "color": "independent"}, "axis": {"x": "independent"}, "legend": {"color": "independent"}}
}
]
}
